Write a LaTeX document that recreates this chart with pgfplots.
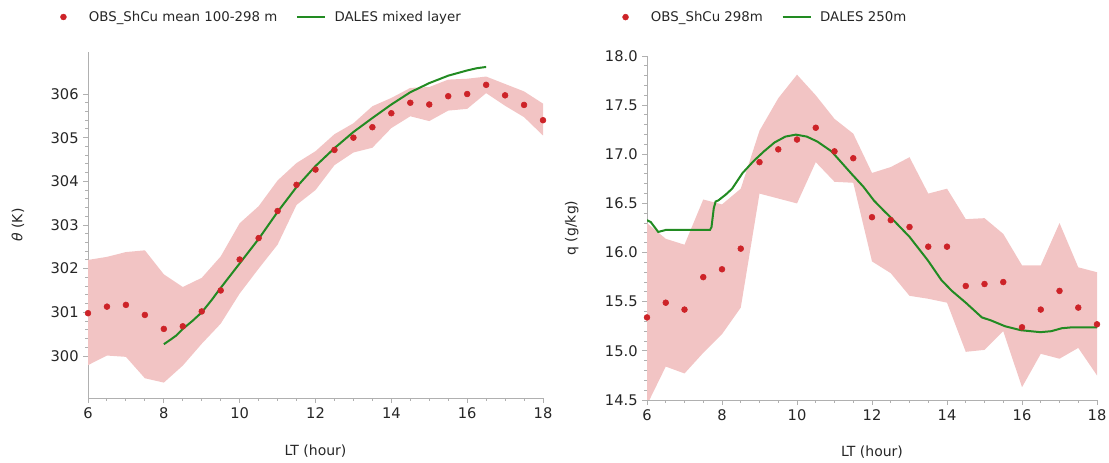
\documentclass[border=0pt]{standalone}
\usepackage{fontspec}
\setmainfont{DejaVu Sans}
\usepackage{pgfplots}
\usepackage{pgfplotstable}
\pgfplotsset{compat=1.18}
\usepgfplotslibrary{fillbetween}
\definecolor{band}{RGB}{242,196,196}
\definecolor{obsred}{RGB}{205,35,40}
\definecolor{dgreen}{RGB}{34,139,34}
\definecolor{spine}{RGB}{176,176,176}

\pgfplotstableread{
x    obs     up      lo
6    300.98  302.20  299.79
6.5  301.13  302.27  300.01
7    301.17  302.38  299.98
7.5  300.94  302.42  299.49
8    300.62  301.87  299.39
8.5  300.68  301.58  299.78
9    301.02  301.79  300.28
9.5  301.50  302.28  300.74
10   302.21  303.04  301.43
10.5 302.70  303.43  302.00
11   303.32  304.02  302.55
11.5 303.92  304.42  303.46
12   304.27  304.69  303.80
12.5 304.72  305.08  304.37
13   305.00  305.33  304.66
13.5 305.24  305.72  304.77
14   305.56  305.91  305.22
14.5 305.80  306.14  305.49
15   305.76  306.16  305.38
15.5 305.95  306.33  305.62
16   306.00  306.35  305.66
16.5 306.21  306.40  306.02
17   305.97  306.23  305.73
17.5 305.75  306.06  305.47
18   305.40  305.78  305.05
}\thetaobs

\pgfplotstableread{
x     y
8.00  300.27
8.17  300.37
8.33  300.47
8.50  300.62
8.75  300.80
9.00  301.00
9.25  301.27
9.50  301.56
9.75  301.84
10.00 302.12
10.50 302.68
11.00 303.30
11.50 303.87
12.00 304.35
12.50 304.76
13.00 305.13
13.50 305.45
14.00 305.76
14.50 306.04
15.00 306.25
15.50 306.42
16.00 306.54
16.25 306.59
16.50 306.62
}\thetadales

\pgfplotstableread{
x    obs    up     lo
6    15.34  16.30  14.45
6.5  15.49  16.14  14.84
7    15.42  16.08  14.77
7.5  15.75  16.54  14.98
8    15.83  16.49  15.17
8.5  16.04  16.65  15.44
9    16.92  17.24  16.60
9.5  17.05  17.57  16.55
10   17.15  17.81  16.50
10.5 17.27  17.60  16.92
11   17.03  17.36  16.72
11.5 16.96  17.21  16.71
12   16.36  16.81  15.91
12.5 16.33  16.87  15.79
13   16.26  16.97  15.56
13.5 16.06  16.60  15.53
14   16.06  16.65  15.49
14.5 15.66  16.34  14.99
15   15.68  16.35  15.01
15.5 15.70  16.19  15.20
16   15.24  15.87  14.63
16.5 15.42  15.87  14.97
17   15.61  16.30  14.92
17.5 15.44  15.85  15.03
18   15.27  15.80  14.75
}\qobs

\pgfplotstableread{
x     y
6.00  16.33
6.10  16.31
6.20  16.26
6.30  16.21
6.40  16.22
6.50  16.23
7.00  16.23
7.50  16.23
7.68  16.23
7.72  16.26
7.78  16.45
7.83  16.52
7.90  16.53
8.00  16.56
8.10  16.59
8.27  16.65
8.55  16.81
8.84  16.93
9.12  17.03
9.40  17.12
9.69  17.18
9.97  17.20
10.26 17.18
10.54 17.13
10.92 17.03
11.20 16.91
11.48 16.79
11.77 16.67
12.05 16.53
12.33 16.42
12.52 16.35
13.00 16.16
13.49 15.92
13.85 15.72
14.13 15.61
14.50 15.49
14.93 15.34
15.17 15.31
15.55 15.25
15.97 15.21
16.49 15.19
16.78 15.20
17.06 15.23
17.35 15.24
18.00 15.24
}\qdales

\pgfplotsset{mystyle/.style={
  scale only axis,
  axis x line*=bottom, axis y line*=left,
  axis line style={draw=spine, line width=0.7pt, -},
  every tick/.style={draw=spine, line width=0.7pt},
  major tick length=3.5pt, minor tick length=2pt,
  tick align=outside,
  xmin=6, xmax=18, xtick={6,8,...,18}, minor x tick num=3,
  minor y tick num=4,
  ticklabel style={font=\fontsize{11}{13}\selectfont, text=black!85},
  /pgf/number format/assume math mode=true,
  label style={font=\fontsize{10.5}{12}\selectfont, text=black!85},
  xlabel={LT (hour)},
  legend style={draw=none, fill=none, font=\fontsize{10}{12}\selectfont, text=black!85,
    legend columns=2, /tikz/every even column/.append style={column sep=12pt}},
  legend cell align=left,
  obsleg/.style={legend image code/.code={
    \path[draw=none] (0cm,0cm) -- (0.8cm,0cm);
    \draw[##1, only marks] plot coordinates {(0.2cm,0cm)};}},
  lineleg/.style={legend image code/.code={
    \path[draw=none] (0cm,0cm) -- (0.92cm,0cm);
    \draw[##1] (0cm,0cm) -- (0.75cm,0cm);}},
}}

\begin{document}
\begin{tikzpicture}
\begin{axis}[mystyle, at={(66pt,48.5pt)}, anchor=south west,
  width=341.25pt, height=260pt,
  ymin=299.03, ymax=306.97, ytick={300,...,306},
  ylabel={{\itshape θ} (K)},
  xlabel style={at={(axis description cs:0.5,-0.152)}, anchor=center},
  ylabel style={at={(axis description cs:-0.154,0.5)}, anchor=center, rotate=0},
  legend style={at={(axis description cs:-0.080,1.100)}, anchor=west},
]
\addplot[name path=tu, draw=none, forget plot] table[x=x, y=up] {\thetaobs};
\addplot[name path=tl, draw=none, forget plot] table[x=x, y=lo] {\thetaobs};
\addplot[band, forget plot] fill between[of=tu and tl];
\addplot[only marks, mark=*, mark size=2.2pt, obsred, obsleg] table[x=x, y=obs] {\thetaobs};
\addlegendentry{OBS\_ShCu mean 100-298 m}
\addplot[dgreen, line width=1.5pt, lineleg] table[x=x, y=y] {\thetadales};
\addlegendentry{DALES mixed layer}
\end{axis}

\begin{axis}[mystyle, at={(485.25pt,47.25pt)}, anchor=south west,
  width=337.5pt, height=258pt,
  ymin=14.5, ymax=18.0, ytick={14.5,15,...,18},
  yticklabel style={/pgf/number format/.cd, fixed, fixed zerofill, precision=1},
  ylabel={q (g/kg)},
  xlabel style={at={(axis description cs:0.5,-0.151)}, anchor=center},
  ylabel style={at={(axis description cs:-0.167,0.5)}, anchor=center, rotate=0},
  legend style={at={(axis description cs:-0.074,1.113)}, anchor=west},
]
\addplot[name path=qu, draw=none, forget plot] table[x=x, y=up] {\qobs};
\addplot[name path=ql, draw=none, forget plot] table[x=x, y=lo] {\qobs};
\addplot[band, forget plot] fill between[of=qu and ql];
\addplot[only marks, mark=*, mark size=2.2pt, obsred, obsleg] table[x=x, y=obs] {\qobs};
\addlegendentry{OBS\_ShCu 298m}
\addplot[dgreen, line width=1.5pt, lineleg] table[x=x, y=y] {\qdales};
\addlegendentry{DALES 250m}
\end{axis}
\pgfresetboundingbox
\path[use as bounding box] (0,0) rectangle (831.75pt,347.25pt);
\end{tikzpicture}
\end{document}
